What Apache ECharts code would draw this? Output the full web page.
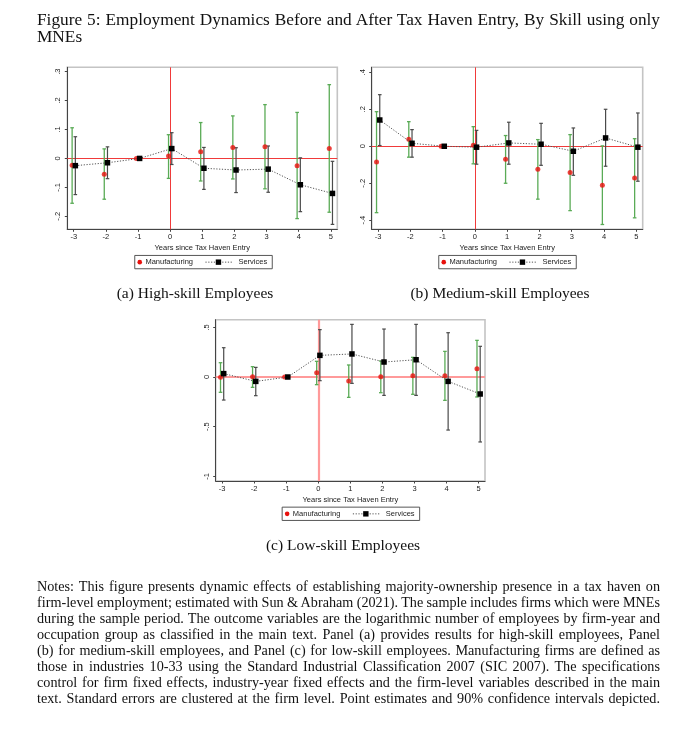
<!DOCTYPE html>
<html><head><meta charset="utf-8">
<script src="https://cdn.jsdelivr.net/npm/echarts@6/dist/echarts.min.js"></script>
<style>
html,body{margin:0;padding:0;background:#fff;}
#wrap{position:relative;width:693px;height:730px;overflow:hidden;}
#chart{position:absolute;left:0;top:0;width:693px;height:730px;}
.t{position:absolute;font-family:"Liberation Serif","Times New Roman",serif;color:#111;white-space:nowrap;}
.cap{position:absolute;font-family:"Liberation Serif",serif;font-size:15.5px;color:#111;white-space:nowrap;transform:translate(-50%,-50%);}
</style>
</head><body>
<div id="wrap">
<div id="chart"></div>
<div class="t fit" style="left:37px;top:11px;font-size:17.3px;line-height:18px;">Figure 5: Employment Dynamics Before and After Tax Haven Entry, By Skill using only</div>
<div class="t" style="left:37px;top:28px;font-size:17.3px;line-height:18px;">MNEs</div>
<div class="cap" style="left:195px;top:293px;">(a) High-skill Employees</div>
<div class="cap" style="left:500px;top:293px;">(b) Medium-skill Employees</div>
<div class="cap" style="left:343px;top:545px;">(c) Low-skill Employees</div>
<div id="notes"></div>
</div>
<script>
// ---------------- DATA ----------------
const years = [-3, -2, -1, 0, 1, 2, 3, 4, 5];
const xTicks = [-3, -2, -1, 0, 1, 2, 3, 4, 5];

// Panel (a) High-skill
const highMfg   = [-0.024, -0.055, 0, 0.008, 0.023, 0.038, 0.040, -0.025, 0.034];
const highMfgLo = [-0.155, -0.141, null, -0.069, -0.078, -0.071, -0.105, -0.208, -0.186];
const highMfgHi = [0.106, 0.033, null, 0.082, 0.124, 0.147, 0.186, 0.159, 0.255];
const highSvc   = [-0.025, -0.015, 0, 0.034, -0.034, -0.040, -0.037, -0.091, -0.121];
const highSvcLo = [-0.125, -0.070, null, -0.021, -0.107, -0.118, -0.117, -0.184, -0.228];
const highSvcHi = [0.075, 0.040, null, 0.089, 0.038, 0.037, 0.043, 0.002, -0.010];
const highYTicks = [-0.2, -0.1, 0, 0.1, 0.2, 0.3];

// Panel (b) Medium-skill
const medMfg   = [-0.085, 0.038, 0, 0.005, -0.070, -0.124, -0.142, -0.211, -0.171];
const medMfgLo = [-0.359, -0.059, null, -0.095, -0.200, -0.286, -0.348, -0.423, -0.387];
const medMfgHi = [0.187, 0.133, null, 0.106, 0.058, 0.036, 0.063, 0.002, 0.041];
const medSvc   = [0.142, 0.016, 0, -0.005, 0.018, 0.011, -0.027, 0.045, -0.005];
const medSvcLo = [0.004, -0.059, null, -0.097, -0.097, -0.103, -0.157, -0.108, -0.189];
const medSvcHi = [0.279, 0.090, null, 0.086, 0.130, 0.124, 0.099, 0.200, 0.180];
const medYTicks = [-0.4, -0.2, 0, 0.2, 0.4];

// Panel (c) Low-skill
const lowMfg   = [-0.003, 0.003, 0, 0.044, -0.040, 0.003, 0.013, 0.013, 0.084];
const lowMfgLo = [-0.154, -0.104, null, -0.077, -0.205, -0.158, -0.174, -0.235, -0.201];
const lowMfgHi = [0.144, 0.104, null, 0.158, 0.121, 0.161, 0.198, 0.258, 0.369];
const lowSvc   = [0.034, -0.044, 0, 0.218, 0.232, 0.151, 0.174, -0.044, -0.171];
const lowSvcLo = [-0.232, -0.188, null, -0.037, -0.064, -0.185, -0.185, -0.534, -0.654];
const lowSvcHi = [0.295, 0.097, null, 0.477, 0.530, 0.483, 0.530, 0.446, 0.309];
const lowYTicks = [-1, -0.5, 0, 0.5];

const xTitle = 'Years since Tax Haven Entry';
const legendNames = ['Manufacturing', 'Services'];

const notesLines = [
 'Notes: This figure presents dynamic effects of establishing majority-ownership presence in a tax haven on',
 'firm-level employment; estimated with Sun & Abraham (2021). The sample includes firms which were MNEs',
 'during the sample period. The outcome variables are the logarithmic number of employees by firm-year and',
 'occupation group as classified in the main text. Panel (a) provides results for high-skill employees, Panel',
 '(b) for medium-skill employees, and Panel (c) for low-skill employees. Manufacturing firms are defined as',
 'those in industries 10-33 using the Standard Industrial Classification 2007 (SIC 2007). The specifications',
 'control for firm fixed effects, industry-year fixed effects and the firm-level variables described in the main',
 'text. Standard errors are clustered at the firm level. Point estimates and 90% confidence intervals depicted.'
];

// ---------------- TEXT (justified by word spacing) ----------------
const TEXT_W = 623;
const notesEl = document.getElementById('notes');
notesLines.forEach((ln, i) => {
  const d = document.createElement('div');
  d.className = 't fit';
  d.style.cssText = 'left:37px;font-size:14.2px;line-height:16px;top:' + (578 + i * 16) + 'px;';
  d.textContent = ln;
  notesEl.appendChild(d);
});
document.querySelectorAll('.fit').forEach(el => {
  const w = el.getBoundingClientRect().width;
  const spaces = (el.textContent.match(/ /g) || []).length;
  if (spaces > 0) el.style.wordSpacing = ((TEXT_W - w) / spaces) + 'px';
});

// ---------------- CHART ----------------
const FONT = '"Liberation Sans", Arial, sans-serif';
const MFG_OFF = -0.05, SVC_OFF = 0.05;

function stataFmt(v) {
  const r = Math.round(v * 10) / 10;
  if (r === 0) return '0';
  let s = String(Math.abs(r));
  if (s.startsWith('0')) s = s.slice(1);
  return (r < 0 ? '-' : '') + s;
}

const panels = [
  { grid: { left: 67.3, top: 67.3, width: 270, height: 162 }, y: [-0.245, 0.315], ticks: highYTicks,
    mfg: highMfg, mfgLo: highMfgLo, mfgHi: highMfgHi, svc: highSvc, svcLo: highSvcLo, svcHi: highSvcHi,
    ref: { color: '#f03a3a', width: 1 }, legend: [134.3, 255] },
  { grid: { left: 371.7, top: 67.3, width: 271, height: 162 }, y: [-0.449, 0.427], ticks: medYTicks,
    mfg: medMfg, mfgLo: medMfgLo, mfgHi: medMfgHi, svc: medSvc, svcLo: medSvcLo, svcHi: medSvcHi,
    ref: { color: '#f03a3a', width: 1 }, legend: [438.3, 255] },
  { grid: { left: 215.7, top: 319.7, width: 269.3, height: 161.3 }, y: [-1.047, 0.577], ticks: lowYTicks,
    mfg: lowMfg, mfgLo: lowMfgLo, mfgHi: lowMfgHi, svc: lowSvc, svcLo: lowSvcLo, svcHi: lowSvcHi,
    ref: { color: '#ff9a9a', width: 2.2 }, legend: [281.7, 506.7] }
];

function errSeries(idx, xs, lo, hi, off, color, width) {
  const data = [];
  xs.forEach((x, i) => { if (lo[i] != null && hi[i] != null) data.push([x + off, lo[i], hi[i]]); });
  return {
    type: 'custom', xAxisIndex: idx, yAxisIndex: idx, silent: true, z: 2,
    encode: { x: 0, y: [1, 2] },
    data: data,
    renderItem: function (params, api) {
      const x = api.value(0);
      const p1 = api.coord([x, api.value(1)]);
      const p2 = api.coord([x, api.value(2)]);
      const cw = 1.8;
      const st = { stroke: color, lineWidth: width };
      return { type: 'group', children: [
        { type: 'line', shape: { x1: p1[0], y1: p1[1], x2: p2[0], y2: p2[1] }, style: st },
        { type: 'line', shape: { x1: p1[0] - cw, y1: p1[1], x2: p1[0] + cw, y2: p1[1] }, style: st },
        { type: 'line', shape: { x1: p2[0] - cw, y1: p2[1], x2: p2[0] + cw, y2: p2[1] }, style: st }
      ]};
    }
  };
}

const option = { animation: false, backgroundColor: 'transparent', grid: [], xAxis: [], yAxis: [], series: [], graphic: [] };

panels.forEach((p, i) => {
  option.grid.push(Object.assign({ show: true, borderColor: '#c4c4c4', borderWidth: 1.6, backgroundColor: '#fff' }, p.grid));
  option.xAxis.push({
    type: 'value', gridIndex: i, min: -3.2, max: 5.2,
    name: xTitle, nameLocation: 'middle', nameGap: 15,
    nameTextStyle: { fontFamily: FONT, fontSize: 7.5, color: '#222' },
    axisLine: { show: true, onZero: false, lineStyle: { color: '#444', width: 1 } },
    axisTick: { show: true, length: 2.5, lineStyle: { color: '#444' }, customValues: xTicks },
    axisLabel: { fontFamily: FONT, fontSize: 7.5, color: '#222', margin: 4, customValues: xTicks, formatter: v => String(v) },
    splitLine: { show: false }
  });
  option.yAxis.push({
    type: 'value', gridIndex: i, min: p.y[0], max: p.y[1],
    axisLine: { show: true, onZero: false, lineStyle: { color: '#444', width: 1 } },
    axisTick: { show: true, length: 2.5, lineStyle: { color: '#444' }, customValues: p.ticks },
    axisLabel: { fontFamily: FONT, fontSize: 7.5, color: '#222', rotate: 90, margin: 5, customValues: p.ticks, formatter: stataFmt },
    splitLine: { show: false }
  });
  option.series.push(errSeries(i, years, p.mfgLo, p.mfgHi, MFG_OFF, '#5aab56', 1.3));
  option.series.push(errSeries(i, years, p.svcLo, p.svcHi, SVC_OFF, '#4a4a4a', 1.2));
  option.series.push({
    name: 'Manufacturing', type: 'scatter', xAxisIndex: i, yAxisIndex: i, z: 4,
    symbol: 'circle', symbolSize: 5, itemStyle: { color: '#e8100c' },
    data: years.map((x, k) => [x + MFG_OFF, p.mfg[k]]),
    markLine: {
      silent: true, symbol: 'none', z: 1, label: { show: false },
      lineStyle: { color: p.ref.color, width: p.ref.width, type: 'solid' },
      data: [{ xAxis: 0 }, { yAxis: 0 }]
    }
  });
  option.series.push({
    name: 'Services', type: 'line', xAxisIndex: i, yAxisIndex: i, z: 5,
    symbol: 'rect', symbolSize: 5.5, showSymbol: true,
    itemStyle: { color: '#000' },
    lineStyle: { color: '#555', width: 1, type: [1.2, 1.6] },
    data: years.map((x, k) => [x + SVC_OFF, p.svc[k]])
  });
  const lx = p.legend[0], ly = p.legend[1], cy = 6.7;
  option.graphic.push({
    type: 'group', left: lx, top: ly, silent: true,
    children: [
      { type: 'rect', shape: { x: 0, y: 0, width: 137.5, height: 13.3 }, style: { fill: '#fff', stroke: '#444', lineWidth: 0.9 } },
      { type: 'circle', shape: { cx: 5, cy: cy, r: 2.3 }, style: { fill: '#e8100c' } },
      { type: 'text', x: 10.7, y: cy, style: { text: legendNames[0], font: '7.5px ' + FONT, fill: '#222', verticalAlign: 'middle' } },
      { type: 'line', shape: { x1: 70.7, y1: cy, x2: 98.4, y2: cy }, style: { stroke: '#555', lineWidth: 1, lineDash: [1.2, 1.6] } },
      { type: 'rect', shape: { x: 83.7 - 2.7, y: cy - 2.7, width: 5.4, height: 5.4 }, style: { fill: '#000' } },
      { type: 'text', x: 103.7, y: cy, style: { text: legendNames[1], font: '7.5px ' + FONT, fill: '#222', verticalAlign: 'middle' } }
    ]
  });
});

const chart = echarts.init(document.getElementById('chart'), null, { renderer: 'canvas' });
chart.setOption(option);
</script>
</body></html>
